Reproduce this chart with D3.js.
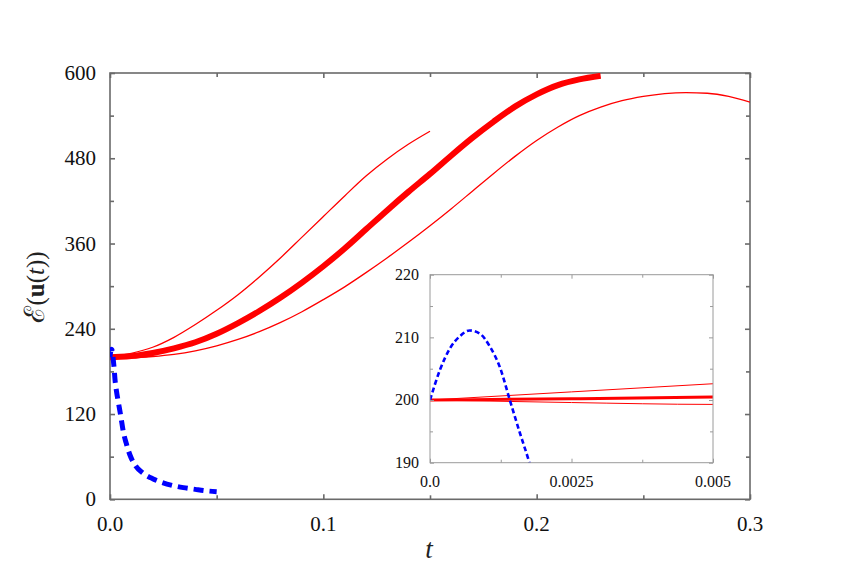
<!DOCTYPE html>
<html><head><meta charset="utf-8">
<script src="https://cdn.jsdelivr.net/npm/d3@7/dist/d3.min.js"></script>
<style>body{margin:0;background:#fff}svg{display:block}
text{font-family:"Liberation Serif","Times New Roman","DejaVu Serif",serif}</style>
</head><body>
<svg id="chart" width="858" height="574"></svg>
<script>
// ---- data ----
const tUpper = [0, 0.0025, 0.005, 0.01, 0.02, 0.03, 0.04, 0.05, 0.06, 0.07, 0.08, 0.09, 0.10, 0.11, 0.12, 0.13, 0.14, 0.15];
const eUpper = [200, 201.3, 202.6, 205.5, 214, 228, 246, 266, 288, 313, 340, 369, 398, 427, 455, 479, 500, 518];

const tMid = [0, 0.0025, 0.005, 0.01, 0.02, 0.03, 0.04, 0.05, 0.06, 0.07, 0.08, 0.09, 0.10, 0.11, 0.12, 0.13, 0.14, 0.15, 0.16, 0.17, 0.18, 0.19, 0.20, 0.21, 0.22, 0.23];
const eMid = [200, 200.2, 200.5, 201.5, 206, 212.5, 221, 233, 248, 265, 284, 305, 328, 353, 380, 407, 433, 458, 484, 509, 532, 553, 570, 583, 591, 596];

const tLower = [0, 0.0025, 0.005, 0.01, 0.02, 0.03, 0.04, 0.05, 0.06, 0.07, 0.08, 0.09, 0.10, 0.11, 0.12, 0.13, 0.14, 0.15, 0.16, 0.17, 0.18, 0.19, 0.20, 0.21, 0.22, 0.23, 0.24, 0.25, 0.26, 0.27, 0.28, 0.29, 0.30];
const eLower = [200, 199.6, 199.3, 199.4, 201, 204, 209, 216, 225, 236, 249, 264, 281, 299, 319, 340, 362, 385, 409, 434, 459, 483, 505, 524, 540, 552, 561, 567, 571, 572.5, 571.5, 567, 559];

const tBlue = [0, 0.000176, 0.00035, 0.00053, 0.0007, 0.00088, 0.00106, 0.00124, 0.00141, 0.00159, 0.00175, 0.002, 0.0023, 0.003, 0.0039, 0.005, 0.00625, 0.0075, 0.0094, 0.012, 0.0156, 0.02, 0.0234, 0.03, 0.0344, 0.04, 0.045, 0.05];
const eBlue = [200, 204.8, 208.2, 210.2, 211.1, 210.6, 208.5, 205.1, 200, 194.7, 190.2, 182, 170, 153, 137, 118, 95, 80, 62, 47, 36.6, 29, 24.8, 19, 16.4, 14, 12, 10.7];

const xTicksMain = [0, 0.1, 0.2, 0.3];
const xMinorMain = [0.05, 0.15, 0.25];
const yTicksMain = [0, 120, 240, 360, 480, 600];
const yMinorMain = [60, 180, 300, 420, 540];
const xTicksInset = [0, 0.0025, 0.005];
const xMinorInset = [0.00125, 0.00375];
const yTicksInset = [190, 200, 210, 220];
const yMinorInset = [195, 205, 215];

// ---- layout ----
const svg = d3.select("#chart");
const M = {left: 110, top: 73, right: 750, bottom: 499.3};
const I = {left: 430, top: 274.7, right: 713, bottom: 462.7};

const x = d3.scaleLinear().domain([0, 0.3]).range([M.left, M.right]);
const y = d3.scaleLinear().domain([0, 600]).range([M.bottom, M.top]);
const xi = d3.scaleLinear().domain([0, 0.005]).range([I.left, I.right]);
const yi = d3.scaleLinear().domain([190, 220]).range([I.bottom, I.top]);

const series = [
  {t: tUpper, e: eUpper, color: "#ff0000", w: 1.3, wi: 1, dash: null, dashi: null},
  {t: tLower, e: eLower, color: "#ff0000", w: 1.3, wi: 1, dash: null, dashi: null},
  {t: tMid,   e: eMid,   color: "#ff0000", w: 6,   wi: 3, dash: null, dashi: null},
  {t: tBlue,  e: eBlue,  color: "#0000ff", w: 5,   wi: 2.6, dash: "10,6", dashi: "5,3"}
];

const defs = svg.append("defs");
defs.append("clipPath").attr("id", "clipMain").append("rect")
  .attr("x", M.left).attr("y", M.top).attr("width", M.right - M.left).attr("height", M.bottom - M.top);
defs.append("clipPath").attr("id", "clipInset").append("rect")
  .attr("x", I.left).attr("y", I.top).attr("width", I.right - I.left).attr("height", I.bottom - I.top);

function drawAxes(g, xs, ys, box, xMaj, xMin, yMaj, yMin, major, minor, color, sw) {
  const H = box.bottom - box.top, W = box.right - box.left;
  const mk = (axis, tr, vals, len) => {
    const a = g.append("g").attr("transform", tr)
      .call(axis.tickValues(vals).tickSize(len).tickFormat(""));
    a.select(".domain").remove();
    a.selectAll("line").attr("stroke", color).attr("stroke-width", sw);
  };
  [[xMaj, major], [xMin, minor]].forEach(([v, L]) => {
    mk(d3.axisBottom(xs), `translate(0,${box.bottom})`, v, -L);
    mk(d3.axisTop(xs), `translate(0,${box.top})`, v, -L);
  });
  [[yMaj, major], [yMin, minor]].forEach(([v, L]) => {
    mk(d3.axisLeft(ys), `translate(${box.left},0)`, v, -L);
    mk(d3.axisRight(ys), `translate(${box.right},0)`, v, -L);
  });
  g.append("rect").attr("x", box.left).attr("y", box.top).attr("width", W).attr("height", H)
    .attr("fill", "none").attr("stroke", color).attr("stroke-width", sw);
}

// ---- main plot ----
const main = svg.append("g");
drawAxes(main, x, y, M, xTicksMain, xMinorMain, yTicksMain, yMinorMain, 5, 4, "#6a6a6a", 1.6);

const fmtX = d => d === 0 ? "0.0" : d3.format(".1f")(d);
main.selectAll(".xl").data(xTicksMain).join("text")
  .attr("x", d => x(d)).attr("y", M.bottom + 32)
  .attr("text-anchor", "middle").attr("font-size", 21)
  .attr("fill", "#111").text(fmtX);
main.selectAll(".yl").data(yTicksMain).join("text")
  .attr("x", M.left - 14).attr("y", d => y(d)).attr("dy", "0.34em")
  .attr("text-anchor", "end").attr("font-size", 21)
  .attr("fill", "#111").text(d => d);

svg.append("text").attr("x", 429).attr("y", 558).attr("text-anchor", "middle")
  .attr("font-style", "italic").attr("font-size", 27)
  .attr("fill", "#222").text("t");

const yl = svg.append("text").attr("transform", "translate(44,287) rotate(-90)")
  .attr("text-anchor", "middle").attr("font-size", 25).attr("fill", "#222");
yl.append("tspan").attr("font-size", 28).text("ℰ");
yl.append("tspan").text("(");
yl.append("tspan").attr("font-weight", "bold").text("u");
yl.append("tspan").text("(");
yl.append("tspan").attr("font-style", "italic").text("t");
yl.append("tspan").text("))");

const lineMain = d3.line().x(d => x(d[0])).y(d => y(d[1])).curve(d3.curveMonotoneX);
const gm = main.append("g").attr("clip-path", "url(#clipMain)");
series.forEach(s => {
  gm.append("path").datum(s.t.map((t, i) => [t, s.e[i]]))
    .attr("d", lineMain).attr("fill", "none").attr("stroke", s.color)
    .attr("stroke-width", s.w).attr("stroke-dasharray", s.dash);
});

// ---- inset ----
const inset = svg.append("g");
inset.append("rect").attr("x", I.left).attr("y", I.top)
  .attr("width", I.right - I.left).attr("height", I.bottom - I.top).attr("fill", "#fff");
const lineInset = d3.line().x(d => xi(d[0])).y(d => yi(d[1])).curve(d3.curveMonotoneX);
const gi = inset.append("g").attr("clip-path", "url(#clipInset)");
series.forEach(s => {
  const pts = s.t.map((t, i) => [t, s.e[i]]).filter(p => p[0] <= 0.0101);
  gi.append("path").datum(pts)
    .attr("d", lineInset).attr("fill", "none").attr("stroke", s.color)
    .attr("stroke-width", s.wi).attr("stroke-dasharray", s.dashi);
});
drawAxes(inset, xi, yi, I, xTicksInset, xMinorInset, yTicksInset, yMinorInset, 4, 3, "#9a9a9a", 1);

const fmtXi = d => d === 0 ? "0.0" : String(d);
inset.selectAll(".xil").data(xTicksInset).join("text")
  .attr("x", d => xi(d)).attr("y", I.bottom + 24)
  .attr("text-anchor", "middle").attr("font-size", 16)
  .attr("fill", "#111").text(fmtXi);
inset.selectAll(".yil").data(yTicksInset).join("text")
  .attr("x", I.left - 11).attr("y", d => yi(d)).attr("dy", "0.34em")
  .attr("text-anchor", "end").attr("font-size", 16)
  .attr("fill", "#111").text(d => d);
</script>
</body></html>
